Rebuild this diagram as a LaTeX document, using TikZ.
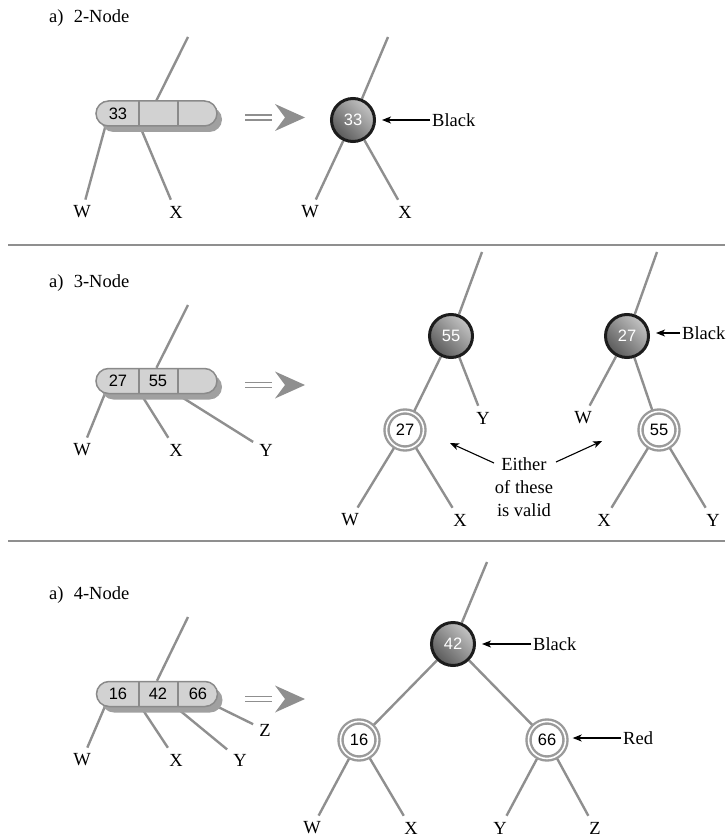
\documentclass[tikz,border=0pt]{standalone}
\usepackage{fontspec}
\setmainfont{Liberation Serif}
\newfontfamily\numfont{Liberation Sans}
\usetikzlibrary{shapes.misc,arrows.meta,backgrounds,shadows}
\definecolor{linegray}{HTML}{8F8F8F}
\definecolor{boxfill}{HTML}{D2D2D2}
\definecolor{boxdraw}{HTML}{8A8A8A}
\definecolor{shadowgray}{HTML}{A0A0A0}
\definecolor{ringgray}{HTML}{9A9A9A}
\definecolor{nodeblack}{HTML}{1C1C1C}
\definecolor{shadeDark}{HTML}{5A5A5A}
\definecolor{shadeLight}{HTML}{C4C4C4}
\begin{document}
\begin{tikzpicture}[x=1pt,y=-1pt,
  lbl/.style={font=\fontsize{18.5}{23}\selectfont, inner sep=2pt},
  leaf/.style={lbl, inner sep=6pt},
  num/.style={font=\numfont\fontsize{16.5}{17}\selectfont},
  link/.style={draw=linegray, line width=2.4pt},
  sep/.style={draw=linegray, line width=2.5pt},
  blk/.style={circle, minimum size=43pt, inner sep=0pt, draw=nodeblack, line width=3pt,
    top color=shadeLight, bottom color=shadeDark, shading angle=-45, num, text=white},
  rnode/.style={circle, minimum size=37pt, inner sep=0pt, draw=ringgray, line width=2.4pt,
    double=white, double distance=1.6pt, fill=white, num, text=black},
  pill/.style={rounded rectangle, minimum width=121pt, minimum height=25pt, inner sep=0pt,
    draw=boxdraw, line width=1.5pt, fill=boxfill,
    general shadow={fill=shadowgray, shadow xshift=5pt, shadow yshift=-6pt}},
  cell/.style={num, inner sep=0pt},
  divline/.style={draw=boxdraw, line width=1.5pt},
  ptr/.style={-{Stealth[length=9pt,width=7pt,inset=2.5pt]}, line width=1.1pt, black},
  dblarrow/.pic={
    \draw[linegray, line width=1.5pt] (0,-2.5) -- (27,-2.5) (0,2.5) -- (27,2.5);
    \fill[linegray] (30,-13.5) -- (60,0) -- (30,13.5) -- (40,0) -- cycle;
  }
]
\path[use as bounding box] (0,0) rectangle (725,840);

% ---------------- section 1 ----------------
\node[lbl, anchor=west] (t1) at (47,18) {a)\hspace{0.55em}2-Node};
\node[pill] (box1) at (156.5,113.5) {};
\draw[divline] (139,101) -- (139,126) (178,101) -- (178,126);
\node[cell] (c11) at (118,113.5) {33};
\coordinate (p1) at (188,37);
\coordinate (b1a) at (106,124);
\coordinate (b1b) at (139,124);
\node[leaf] (w1) at (82,212) {W};
\node[leaf] (x1) at (176,212) {X};
\pic at (245,117.5) {dblarrow};
\node[blk] (n33) at (353,120) {33};
\coordinate (q1) at (388,37);
\node[leaf] (w2) at (310,212) {W};
\node[leaf] (x2) at (405,212) {X};
\node[lbl, anchor=west] (blk1) at (430,120) {Black};
\draw[ptr, shorten >=6pt] (blk1.west) -- (blk1.west -| n33.east);

% ---------------- section 2 ----------------
\coordinate (s1a) at (8,245);
\coordinate (s1b) at (725,245);
\draw[sep] (s1a) -- (s1b);
\node[lbl, anchor=west] (t2) at (47,283) {a)\hspace{0.55em}3-Node};
\node[pill] (box2) at (156.5,381) {};
\draw[divline] (139,368.5) -- (139,393.5) (178,368.5) -- (178,393.5);
\node[cell] (c21) at (118,381) {27};
\node[cell] (c22) at (158,381) {55};
\coordinate (p2) at (188,305);
\coordinate (b2a) at (106,391);
\coordinate (b2b) at (139,391);
\coordinate (b2c) at (172,391);
\node[leaf] (w3) at (82,450) {W};
\node[leaf] (x3) at (176,450) {X};
\node[leaf] (y3) at (266,450) {Y};
\pic at (245,385) {dblarrow};
% tree 1
\node[blk] (n55) at (451,336) {55};
\coordinate (q2) at (482,252);
\node[rnode] (r27) at (405,430) {27};
\node[leaf] (y4) at (483,418) {Y};
\node[leaf] (w4) at (350,520) {W};
\node[leaf] (x4) at (460,520) {X};
% tree 2
\node[blk] (n27) at (627,336) {27};
\coordinate (q3) at (657,252);
\node[lbl, anchor=west] (blk2) at (680,333) {Black};
\draw[ptr, shorten >=6pt] (blk2.west) -- (blk2.west -| n27.east);
\node[leaf] (w5) at (583,418) {W};
\node[rnode] (r55) at (659,430) {55};
\node[leaf] (x5) at (604,520) {X};
\node[leaf] (y5) at (713,520) {Y};
\node[lbl, align=center] (either) at (524,487) {Either\\of these\\is valid};
\coordinate (ea) at (494,463);
\coordinate (e1) at (450,443);
\coordinate (eb) at (556,462);
\coordinate (e2) at (602,441);
\draw[ptr] (ea) -- (e1);
\draw[ptr] (eb) -- (e2);

% ---------------- section 3 ----------------
\coordinate (s2a) at (8,541);
\coordinate (s2b) at (725,541);
\draw[sep] (s2a) -- (s2b);
\node[lbl, anchor=west] (t3) at (47,595) {a)\hspace{0.55em}4-Node};
\node[pill] (box3) at (157,694) {};
\draw[divline] (139,681.5) -- (139,706.5) (178,681.5) -- (178,706.5);
\node[cell] (c31) at (118,693.5) {16};
\node[cell] (c32) at (158,693.5) {42};
\node[cell] (c33) at (198,693.5) {66};
\coordinate (p3) at (188,617);
\coordinate (b3a) at (106,704);
\coordinate (b3b) at (139,704);
\coordinate (b3c) at (172,704);
\coordinate (b3d) at (210,703);
\node[leaf] (w6) at (82,760) {W};
\node[leaf] (x6) at (176,760) {X};
\node[leaf] (y6) at (240,760) {Y};
\node[leaf] (z6) at (265,730) {Z};
\pic at (245,699) {dblarrow};
\node[blk] (n42) at (453,644) {42};
\coordinate (q4) at (487,562);
\node[lbl, anchor=west] (blk3) at (531,644) {Black};
\draw[ptr, shorten >=6pt] (blk3.west) -- (blk3.west -| n42.east);
\node[rnode] (r16) at (359,740) {16};
\node[rnode] (r66) at (547,740) {66};
\node[lbl, anchor=west] (red1) at (621,738) {Red};
\draw[ptr, shorten >=6pt] (red1.west) -- (red1.west -| r66.east);
\node[leaf] (w7) at (312,828) {W};
\node[leaf] (x7) at (411,828) {X};
\node[leaf] (y7) at (500,828) {Y};
\node[leaf] (z7) at (595,828) {Z};

% ---------------- connectors (behind) ----------------
\begin{scope}[on background layer]
\draw[link] (p1) -- (box1.north);
\draw[link] (b1a) -- (w1);
\draw[link] (b1b) -- (x1);
\draw[link] (q1) -- (n33);
\draw[link] (n33) -- (w2);
\draw[link] (n33) -- (x2);
\draw[link] (p2) -- (box2.north);
\draw[link] (b2a) -- (w3);
\draw[link] (b2b) -- (x3);
\draw[link] (b2c) -- (y3);
\draw[link] (q2) -- (n55);
\draw[link] (n55) -- (r27);
\draw[link] (n55) -- (y4);
\draw[link] (r27) -- (w4);
\draw[link] (r27) -- (x4);
\draw[link] (q3) -- (n27);
\draw[link] (n27) -- (w5);
\draw[link] (n27) -- (r55);
\draw[link] (r55) -- (x5);
\draw[link] (r55) -- (y5);
\draw[link] (p3) -- (box3.north);
\draw[link] (b3a) -- (w6);
\draw[link] (b3b) -- (x6);
\draw[link] (b3c) -- (y6);
\draw[link] (b3d) -- (z6);
\draw[link] (q4) -- (n42);
\draw[link] (n42) -- (r16);
\draw[link] (n42) -- (r66);
\draw[link] (r16) -- (w7);
\draw[link] (r16) -- (x7);
\draw[link] (r66) -- (y7);
\draw[link] (r66) -- (z7);
\end{scope}
\end{tikzpicture}
\end{document}
